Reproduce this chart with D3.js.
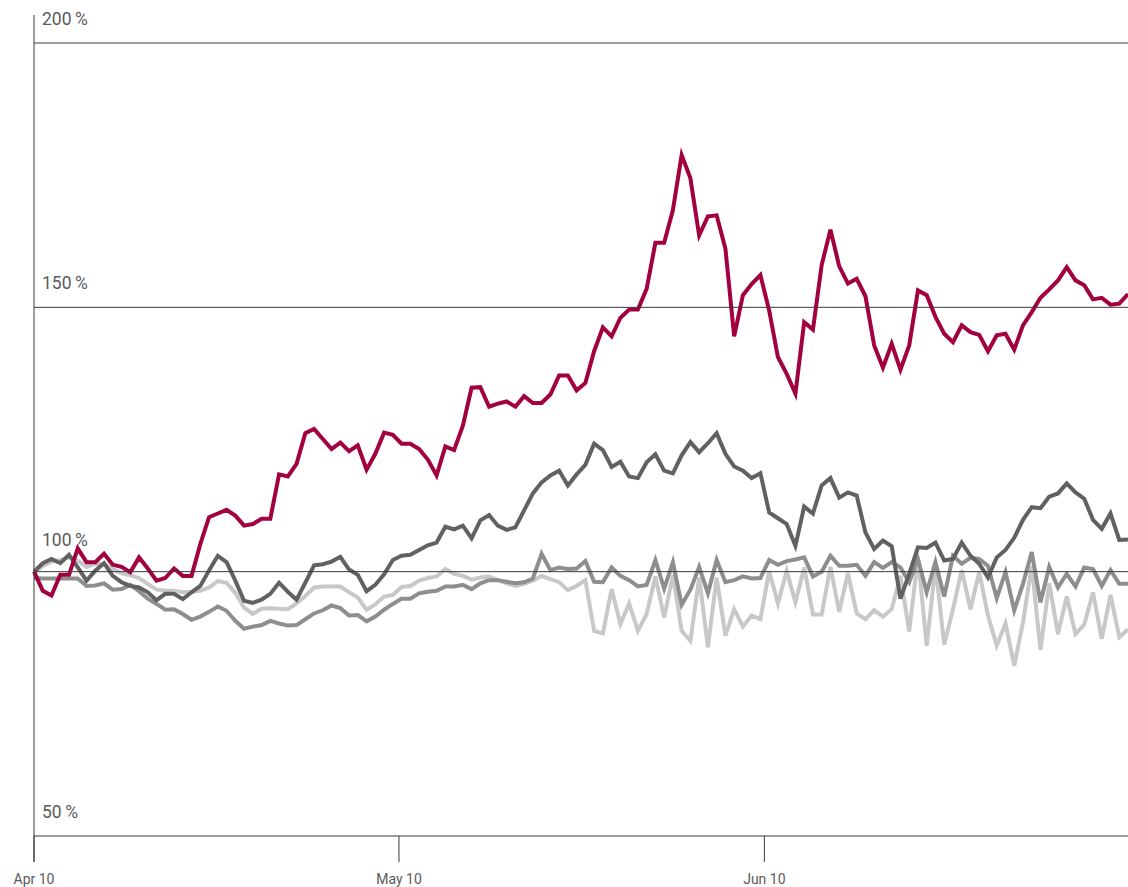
<!DOCTYPE html>
<html>
<head>
<meta charset="utf-8">
<script src="https://cdn.jsdelivr.net/npm/d3@7"></script>
<style>
  body { margin: 0; background: #fff; }
  text { font-family: Roboto, "Noto Sans", sans-serif; fill: #5a5a5a; }
</style>
</head>
<body>
<div id="chart"></div>
<script>
// values in % of the starting level, one per observation
const red = [100,96.4,95.5,99.4,99.4,104.4,101.8,101.8,103.4,101.3,
  100.9,99.9,102.7,100.6,98.3,98.8,100.6,99.2,99.2,105.2,
  110.3,111.0,111.7,110.6,108.7,109.0,110.0,110.0,118.4,118.0,
  120.4,126.2,127.0,125.1,123.2,124.4,122.8,123.9,119.3,122.3,
  126.3,125.9,124.2,124.2,123.2,121.2,118.2,123.7,123.0,127.6,
  134.8,134.9,131.2,131.8,132.2,131.2,133.2,131.9,131.9,133.5,
  137.1,137.1,134.3,135.7,141.7,146.2,144.5,148.0,149.6,149.6,
  153.5,162.2,162.2,168.4,178.8,174.4,163.6,167.2,167.4,161.1,
  144.5,152.3,154.4,156.1,149.4,140.6,137.4,133.7,147.2,145.8,
  158.0,164.7,157.8,154.5,155.4,152.1,142.8,138.6,143.1,138.2,
  142.8,153.2,152.3,148.2,145.0,143.4,146.6,145.3,144.8,141.7,
  144.7,145.0,142.0,146.6,149.1,151.8,153.4,155.1,157.6,155.1,
  154.2,151.5,151.8,150.5,150.7,152.5];

const darkGrey = [100,101.6,102.4,101.6,103.2,100.8,98.3,100.2,101.6,99.2,
  98.0,97.3,97.0,96.1,94.6,95.8,95.8,94.8,96.1,97.3,
  100.2,103.0,101.8,98.3,94.5,94.1,94.7,95.8,97.9,96.2,
  94.7,97.9,101.2,101.4,101.9,102.8,100.4,99.4,96.3,97.5,
  99.5,102.2,103.0,103.2,104.1,105.0,105.5,108.5,108.0,108.7,
  106.3,109.7,110.7,108.7,107.9,108.4,111.6,114.8,116.9,118.2,
  119.1,116.3,118.4,120.2,124.2,123.0,119.8,120.8,118.0,117.7,
  120.7,122.2,119.1,118.6,122.0,124.5,122.6,124.3,126.2,122.3,
  119.9,119.1,117.7,118.6,111.2,110.1,109.0,104.9,112.3,111.0,
  116.3,117.7,114.0,115.0,114.4,107.4,104.3,105.9,104.8,94.9,
  99.6,104.6,104.5,105.5,102.1,102.4,105.5,103.0,101.5,98.9,
  102.7,104.1,106.4,109.8,112.2,112.0,114.2,114.8,116.7,115.0,
  113.8,109.8,108.1,111.0,106.0,106.1];

const midGrey = [98.8,98.7,98.7,98.7,98.7,98.7,97.3,97.4,97.8,96.6,
  96.7,97.5,96.3,94.9,93.9,92.8,92.9,92.0,90.9,91.5,
  92.4,93.4,92.6,90.7,89.2,89.6,89.9,90.7,90.2,89.8,
  89.9,91.0,92.1,92.7,93.6,93.1,91.7,91.8,90.6,91.5,
  92.8,93.9,94.9,94.9,95.9,96.2,96.4,97.2,97.2,97.5,
  96.7,97.8,98.4,98.4,98.1,97.8,98.0,98.7,103.4,100.3,
  100.8,100.5,100.6,102.0,98.1,98.0,100.8,99.2,98.4,97.2,
  97.5,102.2,96.8,101.8,93.7,96.6,100.9,95.9,102.2,98.0,
  98.4,99.1,98.7,98.8,102.2,101.3,102.0,102.3,102.7,99.1,
  100.0,103.0,101.1,101.1,101.3,99.2,101.8,100.7,101.8,100.8,
  98.0,102.4,96.1,101.8,95.3,103.0,101.5,102.6,102.4,101.1,
  95.0,99.9,92.7,97.7,103.7,94.2,100.9,97.0,99.6,97.2,
  100.8,100.5,97.3,100.3,97.7,97.7];

const lightGrey = [99.7,101.1,101.9,102.2,102.7,102.1,100.9,101.5,101.4,100.5,
  99.7,99.3,98.8,97.7,96.6,96.4,96.4,96.1,96.2,96.4,
  97.0,98.2,97.9,96.0,93.2,92.0,93.0,93.1,93.0,92.9,
  94.0,95.4,97.0,97.2,97.2,97.2,96.1,95.1,92.8,93.8,
  95.3,95.6,97.1,97.3,98.3,98.8,99.1,100.5,99.6,99.2,
  98.5,98.9,99.1,98.4,97.8,97.3,97.7,98.3,99.2,98.6,
  98.0,96.5,97.3,98.4,88.8,88.3,96.7,90.1,94.0,88.8,
  92.0,99.1,91.3,99.4,88.8,86.9,98.9,85.7,98.9,87.9,
  92.9,89.6,91.7,91.0,100.1,94.0,100.1,94.2,100.8,91.9,
  91.9,100.9,92.4,99.7,92.1,91.0,92.7,91.5,92.9,99.2,
  88.7,102.7,86.0,101.1,86.2,92.9,100.3,92.9,99.9,91.7,
  86.0,90.2,82.2,90.4,101.1,85.2,97.8,88.2,95.3,88.2,
  90.0,96.1,87.3,95.6,87.6,89.1];

const yTicks = [50, 100, 150, 200];
const xTickLabels = ["Apr 10", "May 10", "Jun 10"];
const xTickIndex = [0, 41.7, 83.45];

const width = 1128, height = 887;

const svg = d3.select("#chart").append("svg")
    .attr("width", width)
    .attr("height", height);

const x = d3.scaleLinear()
    .domain([0, red.length - 1])
    .range([34, 1128]);

const y = d3.scaleLinear()
    .domain([50, 200])
    .range([836, 43]);

const line = d3.line()
    .x((d, i) => x(i))
    .y(d => y(d));

const series = [
    {values: lightGrey, color: "#c8c8c8"},
    {values: midGrey, color: "#8e8e8e"},
    {values: darkGrey, color: "#616161"},
    {values: red, color: "#a2003f"}
];

svg.selectAll("path.series")
    .data(series)
    .enter().append("path")
    .attr("class", "series")
    .attr("d", d => line(d.values))
    .attr("fill", "none")
    .attr("stroke", d => d.color)
    .attr("stroke-width", 4);

// horizontal grid lines
svg.append("g")
    .selectAll("line")
    .data(yTicks)
    .enter().append("line")
    .attr("x1", 34)
    .attr("x2", width)
    .attr("y1", d => y(d))
    .attr("y2", d => y(d))
    .attr("stroke", "#3a3a3a")
    .attr("stroke-width", 1);

// y labels, above each grid line
svg.append("g")
    .selectAll("text")
    .data(yTicks)
    .enter().append("text")
    .attr("x", 42)
    .attr("y", d => y(d) - (d === 100 ? 26 : 18))
    .attr("font-size", "17.5px")
    .text(d => d + "\u2009%");

// left axis
svg.append("line")
    .attr("x1", 34).attr("x2", 34)
    .attr("y1", 15).attr("y2", 862)
    .attr("stroke", "#3a3a3a")
    .attr("stroke-width", 1);

// x ticks
const xt = svg.append("g")
    .selectAll("g")
    .data(xTickLabels)
    .enter().append("g")
    .attr("transform", (d, i) => `translate(${x(xTickIndex[i])},0)`);

xt.append("line")
    .attr("y1", y(50))
    .attr("y2", 862)
    .attr("stroke", "#3a3a3a")
    .attr("stroke-width", 1);

xt.append("text")
    .attr("y", 884)
    .attr("text-anchor", "middle")
    .attr("font-size", "14px")
    .text(d => d);
</script>
</body>
</html>
